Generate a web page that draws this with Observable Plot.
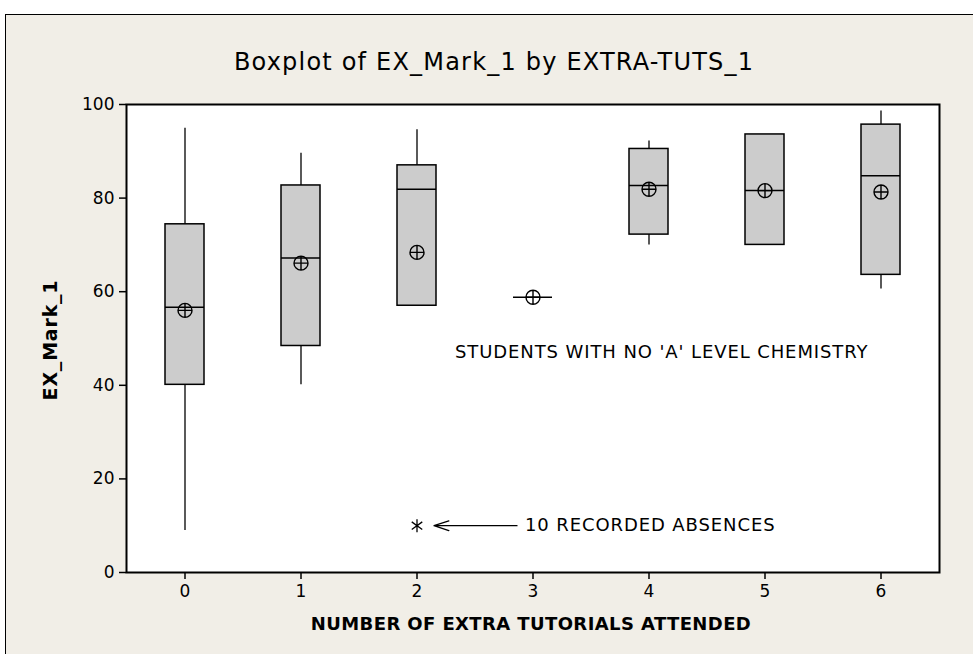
<!DOCTYPE html>
<html>
<head>
<meta charset="utf-8">
<script src="https://cdn.jsdelivr.net/npm/d3@7"></script>
<script src="https://cdn.jsdelivr.net/npm/@observablehq/plot@0.6"></script>
<style>
  html, body { margin: 0; padding: 0; background: #ffffff; }
  #page { position: relative; width: 973px; height: 654px; overflow: hidden; }
  #panel { position: absolute; left: 5px; top: 14px; width: 968px; height: 640px;
           background: #F1EEE7; border-top: 1px solid #000; border-left: 1px solid #000; }
  #chart { position: absolute; left: 0; top: 0; }
  .lbl { position: absolute; color: #000; white-space: nowrap; }
  #title { left: 494px; top: 62px; transform: translate(-50%, -50%);
           font-family: "DejaVu Sans", sans-serif; font-size: 24px; letter-spacing: 1.2px; }
  #ylab { left: 50px; top: 340px; transform: translate(-50%, -50%) rotate(-90deg);
          font-family: "DejaVu Sans", sans-serif; font-weight: bold; font-size: 19px; letter-spacing: 0.8px; }
  #xlab { left: 531px; top: 623px; transform: translate(-50%, -50%);
          font-family: "DejaVu Sans", sans-serif; font-weight: bold; font-size: 18px; letter-spacing: 0.4px; }
</style>
</head>
<body>
<div id="page">
  <div id="panel"></div>
  <div id="chart"></div>
  <div class="lbl" id="title">Boxplot of EX_Mark_1 by EXTRA-TUTS_1</div>
  <div class="lbl" id="ylab">EX_Mark_1</div>
  <div class="lbl" id="xlab">NUMBER OF EXTRA TUTORIALS ATTENDED</div>
</div>
<script>
// ---- data ----
const categories   = ["0", "1", "2", "3", "4", "5", "6"];
const whiskerLow   = [9.0, 40.1, 57.0, 58.8, 70.0, 70.0, 60.6];
const q1           = [40.1, 48.4, 57.0, 58.8, 72.2, 70.0, 63.6];
const medians      = [56.7, 67.2, 81.9, 58.8, 82.7, 81.6, 84.8];
const q3           = [74.4, 82.7, 87.0, 58.8, 90.5, 93.6, 95.7];
const whiskerHigh  = [94.9, 89.6, 94.6, 58.8, 92.2, 93.6, 98.6];
const means        = [56.0, 66.1, 68.4, 58.8, 81.9, 81.6, 81.3];
const outlierCats  = ["2"];
const outlierVals  = [10.0];
const yTicks       = [0, 20, 40, 60, 80, 100];

const noteTexts    = ["STUDENTS WITH NO 'A' LEVEL CHEMISTRY", "10 RECORDED ABSENCES"];
const noteCats     = ["2", "3"];
const noteVals     = [47, 10];
const arrowFrom    = ["3"];
const arrowTo      = ["2"];
const arrowVals    = [10];

// ---- tables ----
const boxes = categories.map((c, i) => ({
  cat: c, lo: whiskerLow[i], q1: q1[i], med: medians[i], q3: q3[i], hi: whiskerHigh[i], mean: means[i]
}));
const outliers = outlierCats.map((c, i) => ({cat: c, v: outlierVals[i]}));
const notes = noteTexts.map((t, i) => ({text: t, cat: noteCats[i], v: noteVals[i]}));
const arrows = arrowFrom.map((c, i) => ({from: c, to: arrowTo[i], v: arrowVals[i]}));

// custom symbols
const circlePlus = {
  draw(ctx, size) {
    const r = Math.sqrt(size / Math.PI);
    ctx.moveTo(r, 0); ctx.arc(0, 0, r, 0, 2 * Math.PI);
    ctx.moveTo(-r, 0); ctx.lineTo(r, 0);
    ctx.moveTo(0, -r); ctx.lineTo(0, r);
  }
};
const asterisk = {
  draw(ctx, size) {
    const r = Math.sqrt(size / Math.PI);
    ctx.moveTo(0, -r); ctx.lineTo(0, r);
    const a = Math.PI / 5;
    ctx.moveTo(-r * Math.cos(a), -r * Math.sin(a)); ctx.lineTo(r * Math.cos(a), r * Math.sin(a));
    ctx.moveTo(-r * Math.cos(a), r * Math.sin(a)); ctx.lineTo(r * Math.cos(a), -r * Math.sin(a));
  }
};

const plot = Plot.plot({
  width: 973,
  height: 654,
  marginLeft: 126,
  marginRight: 34,
  marginTop: 104,
  marginBottom: 82,
  style: {background: "transparent", fontFamily: "'DejaVu Sans', Verdana, sans-serif", fontSize: "17px", color: "#000"},
  x: {type: "band", domain: categories, paddingInner: 0.663, paddingOuter: 0.3315, label: null},
  y: {domain: [0, 100], label: null},
  marks: [
    Plot.frame({fill: "white", stroke: null}),
    Plot.axisY({ticks: yTicks, tickSize: 7, tickPadding: 5, label: null, strokeWidth: 1.5}),
    Plot.axisX({tickSize: 7, tickPadding: 5, label: null, strokeWidth: 1.5}),
    Plot.ruleX(boxes, {x: "cat", y1: "lo", y2: "q1", stroke: "#000", strokeWidth: 1.3}),
    Plot.ruleX(boxes, {x: "cat", y1: "q3", y2: "hi", stroke: "#000", strokeWidth: 1.3}),
    Plot.barY(boxes, {x: "cat", y1: "q1", y2: "q3", fill: "#CCCCCC", stroke: "#000", strokeWidth: 1.5}),
    Plot.tickY(boxes, {x: "cat", y: "med", stroke: "#000", strokeWidth: 1.5}),
    Plot.dot(boxes, {x: "cat", y: "mean", r: 7, symbol: circlePlus, stroke: "#000", fill: "none", strokeWidth: 1.4}),
    Plot.dot(outliers, {x: "cat", y: "v", r: 6.5, symbol: asterisk, stroke: "#000", fill: "none", strokeWidth: 1.3}),
    Plot.arrow(arrows, {x1: "from", x2: "to", y1: "v", y2: "v", insetStart: 16, insetEnd: 17,
                        headLength: 18, headAngle: 36, stroke: "#000", strokeWidth: 1.3}),
    Plot.text([notes[0]], {x: "cat", y: "v", text: "text", textAnchor: "start", dx: 38,
                           fontSize: 18, fill: "#000"}),
    Plot.text([notes[1]], {x: "cat", y: "v", text: "text", textAnchor: "start", dx: -8,
                           fontSize: 18, fill: "#000"}),
    Plot.frame({stroke: "#000", strokeWidth: 2})
  ]
});
// letter spacing for the annotation texts (style only)
d3.select(plot).selectAll("g[aria-label='text'] text").style("letter-spacing", "0.9px");
document.getElementById("chart").appendChild(plot);
</script>
</body>
</html>
